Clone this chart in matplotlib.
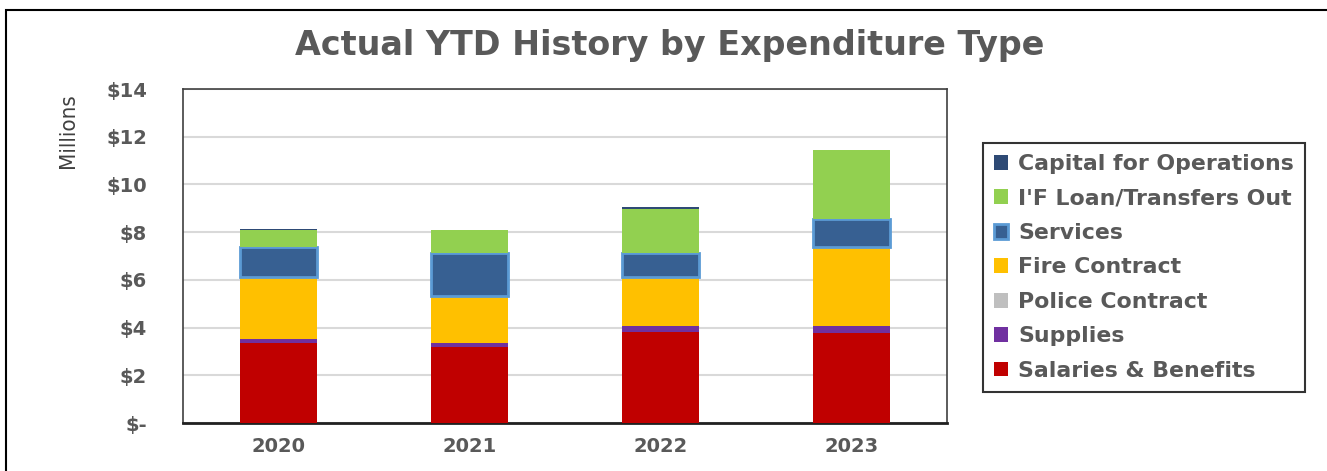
import numpy as np
import matplotlib.pyplot as plt
from matplotlib.patches import Rectangle

years = ["2020", "2021", "2022", "2023"]
salaries = [3.34, 3.20, 3.83, 3.78]
supplies = [0.17, 0.15, 0.24, 0.29]
police = [0.0, 0.0, 0.0, 0.0]
fire = [2.62, 1.97, 2.06, 3.29]
services = [1.26, 1.82, 0.98, 1.18]
if_loan = [0.69, 0.94, 1.87, 2.90]
capital = [0.04, 0.0, 0.07, 0.0]

series = [
    ("Salaries & Benefits", salaries, "#C00000"),
    ("Supplies", supplies, "#7030A0"),
    ("Police Contract", police, "#BFBFBF"),
    ("Fire Contract", fire, "#FFC000"),
    ("Services", services, "#376092"),
    ("I'F Loan/Transfers Out", if_loan, "#92D050"),
    ("Capital for Operations", capital, "#2E4A75"),
]

plt.rcParams["font.family"] = ["DejaVu Sans"]
txt = "#595959"

fig = plt.figure(figsize=(13.27, 4.71), dpi=100)
ax = fig.add_axes([183 / 1327, 48 / 471, 764 / 1327, 334 / 471])

x = np.arange(len(years)) + 0.5
bottom = np.zeros(len(years))
handles = []
for name, vals, col in series:
    vals = np.array(vals)
    if name == "Services":
        b = ax.bar(x, vals, 0.40, bottom=bottom, color=col, edgecolor="#5B9BD5",
                   linewidth=2, label=name, zorder=3)
    else:
        b = ax.bar(x, vals, 0.40, bottom=bottom, color=col, label=name, zorder=3)
    handles.append(b)
    bottom += vals

ax.set_xlim(0, 4)
ax.set_ylim(0, 14)
ax.set_xticks(x)
ax.set_xticklabels(years)
ax.set_yticks(range(0, 15, 2))
ax.set_yticklabels(["$-"] + ["$%d" % v for v in range(2, 15, 2)])
ax.tick_params(length=0, labelsize=14, labelcolor=txt)
ax.tick_params(axis="y", pad=26)
ax.tick_params(axis="x", pad=10)
for lbl in ax.get_xticklabels() + ax.get_yticklabels():
    lbl.set_fontweight("bold")
ax.grid(axis="y", color="#D9D9D9", linewidth=1.5, zorder=0)
for side in ["left", "top", "right"]:
    ax.spines[side].set_color("#404040")
    ax.spines[side].set_linewidth(1.2)
ax.spines["bottom"].set_color("#202020")
ax.spines["bottom"].set_linewidth(2)

fig.text(0.505, 0.903, "Actual YTD History by Expenditure Type", ha="center", va="center",
         fontsize=24, fontweight="bold", color=txt)
fig.text(68 / 1327, 1 - 131 / 471, "Millions", rotation=90, ha="center", va="center",
         fontsize=16, color="#404040", fontweight="medium", fontstretch="condensed",
         family=["Liberation Sans Narrow", "DejaVu Sans"])

leg = fig.legend(handles[::-1], [s[0] for s in series][::-1], loc="upper left",
                 bbox_to_anchor=(983 / 1327, 1 - 143 / 471), frameon=True, fancybox=False,
                 prop={"weight": "bold", "size": 15.8}, handlelength=0.65, handleheight=0.65,
                 labelspacing=0.66, borderpad=0.5, handletextpad=0.45, borderaxespad=0)
leg.get_frame().set_edgecolor("black")
leg.get_frame().set_linewidth(1.5)
for t in leg.get_texts():
    t.set_color(txt)

fig.patches.append(Rectangle((6 / 1327, -0.1), 1.2, 1 - 10 / 471 + 0.1, transform=fig.transFigure,
                             fill=False, edgecolor="black", linewidth=1.5))

fig.savefig("out.png", dpi=100)
